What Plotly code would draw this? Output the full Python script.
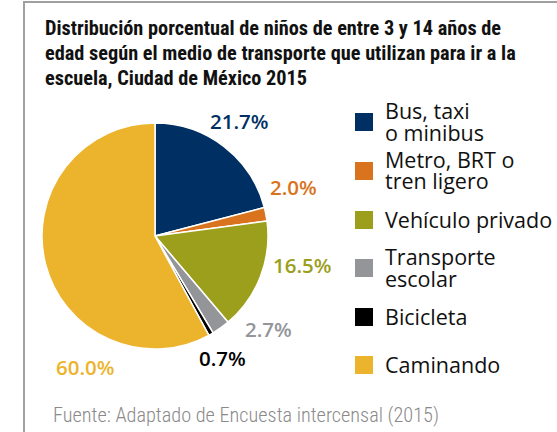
import plotly.graph_objects as go

categories = ["Bus, taxi<br>o minibus", "Metro, BRT o<br>tren ligero", "Vehículo privado",
              "Transporte<br>escolar", "Bicicleta", "Caminando"]
values = [21.7, 2.0, 16.5, 2.7, 0.7, 60.0]
colors = ["#003063", "#D9731E", "#9C9F1B", "#939598", "#000000", "#ECB42C"]
title_lines = ["Distribución porcentual de niños de entre 3 y 14 años de",
               "edad según el medio de transporte que utilizan para ir a la",
               "escuela, Ciudad de México 2015"]
source = "Fuente: Adaptado de Encuesta intercensal (2015)"

W, H = 557, 432
def px(x): return x / W
def py(y): return 1 - y / H

def cond(t, s="condensed"):
    return f"<span style='font-stretch:{s}'>{t}</span>"

# pie geometry (pixels)
cx, cy, R = 155, 236, 113

fig = go.Figure(go.Pie(
    values=values, labels=categories, sort=False, direction="clockwise", rotation=0,
    marker=dict(colors=colors, line=dict(color="white", width=1.5)),
    textinfo="none", hoverinfo="label+percent", showlegend=False,
    domain=dict(x=[px(cx - R), px(cx + R)], y=[py(cy + R), py(cy - R)]),
))

annotations = []
shapes = []
# frame lines
shapes.append(dict(type="line", xref="paper", yref="paper", x0=px(24), x1=px(24), y0=py(2), y1=0,
                   line=dict(color="#A0A0A0", width=2)))
shapes.append(dict(type="line", xref="paper", yref="paper", x0=px(23), x1=1, y0=py(2), y1=py(2),
                   line=dict(color="#A0A0A0", width=2)))

for i, line in enumerate(title_lines):
    annotations.append(dict(text=cond(line), xref="paper", yref="paper", x=px(43), y=py(28 + 25 * i),
                            xanchor="left", yanchor="middle", showarrow=False,
                            font=dict(family="Roboto, sans-serif", size=20.3, color="#111111", weight="bold")))

# percent labels
label_pos = [(239, 121), (293, 187), (302, 265), (268, 329), (222, 358), (85, 367)]
for v, c, (lx, ly) in zip(values, colors, label_pos):
    annotations.append(dict(text=f"{v:.1f}%", xref="paper", yref="paper",
                            x=px(lx), y=py(ly), xanchor="center", yanchor="middle", showarrow=False,
                            font=dict(family="Open Sans, sans-serif", size=20.5, color=c, weight=600)))

# legend
leg_y = [122, 171, 220, 268, 317, 365]
for cat, c, ly in zip(categories, colors, leg_y):
    shapes.append(dict(type="rect", xref="paper", yref="paper", x0=px(355), x1=px(373),
                       y0=py(ly + 9), y1=py(ly - 9), fillcolor=c, line=dict(width=0)))
    parts = cat.split("<br>")
    n = len(parts)
    for j, part in enumerate(parts):
        yy = ly + (j - (n - 1) / 2) * 22 - 1
        annotations.append(dict(text=part, xref="paper", yref="paper",
                                x=px(383), y=py(yy), xanchor="left", yanchor="middle", showarrow=False,
                                font=dict(family="Open Sans, sans-serif", size=21.5, color="#111111")))

annotations.append(dict(text=cond(source), xref="paper", yref="paper", x=px(51), y=py(415),
                        xanchor="left", yanchor="middle", showarrow=False,
                        font=dict(family="Roboto, sans-serif", size=20.3, color="#8A8A8A", weight=300)))

fig.update_layout(width=W, height=H, margin=dict(l=0, r=0, t=0, b=0),
                  paper_bgcolor="white", plot_bgcolor="white",
                  annotations=annotations, shapes=shapes)
fig.write_html("out.html", config={"displayModeBar": False},
               post_script="document.body.style.margin='0';")
